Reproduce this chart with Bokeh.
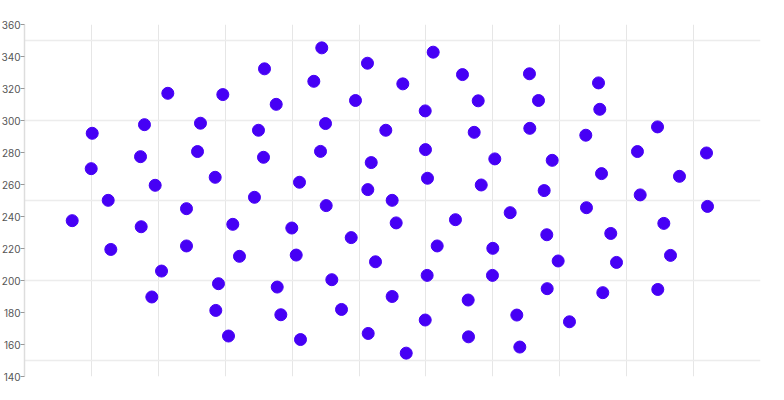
from bokeh.plotting import figure
from bokeh.models import FixedTicker, Range1d, ColumnDataSource
from bokeh.embed import file_html
from bokeh.resources import INLINE

# point positions
x_vals = [0.713, 1.012, 0.997, 1.251, 1.290, 1.734, 1.744, 1.793, 1.903, 1.953,
          2.048, 2.142, 2.421, 2.421, 2.630, 2.586, 2.850, 2.899, 2.859, 2.964,
          3.049, 3.113, 3.213, 3.437, 3.497, 3.572, 3.587, 3.762, 3.777, 3.831,
          3.995, 4.110, 4.061, 4.125, 4.324, 4.443, 4.424, 4.499, 4.509, 4.593,
          4.738, 4.883, 4.947, 5.126, 5.131, 5.182, 5.137, 5.246, 5.400, 5.495,
          5.495, 5.555, 5.654, 5.705, 5.989, 5.993, 6.023, 6.018, 5.989, 6.108,
          6.168, 6.441, 6.546, 6.631, 6.636, 6.721, 6.781, 6.826, 6.999, 7.029,
          6.994, 7.259, 7.358, 7.403, 7.547, 7.552, 7.682, 7.767, 7.806, 7.812,
          7.887, 7.976, 8.145, 8.389, 8.399, 8.579, 8.598, 8.624, 8.643, 8.762,
          8.848, 9.161, 9.202, 9.461, 9.465, 9.555, 9.655, 9.789, 10.193, 10.208]
y_vals = [237.4, 292.0, 269.9, 250.1, 219.4, 277.4, 233.6, 297.4, 189.7, 259.5,
          205.9, 317.0, 244.9, 221.6, 298.3, 280.6, 264.5, 198.0, 181.3, 316.2,
          165.3, 235.1, 215.1, 252.0, 293.9, 277.0, 332.3, 310.1, 195.9, 178.6,
          232.8, 261.4, 215.9, 163.1, 324.5, 345.4, 280.7, 298.1, 246.8, 200.5,
          181.9, 226.8, 312.5, 335.8, 256.8, 273.7, 166.9, 211.7, 293.9, 250.1,
          190.0, 236.0, 322.9, 154.6, 306.0, 281.8, 263.9, 203.2, 175.3, 342.7,
          221.6, 238.0, 328.7, 187.8, 164.8, 292.6, 312.3, 259.7, 220.1, 276.0,
          203.2, 242.4, 178.4, 158.4, 329.2, 295.1, 312.5, 256.2, 228.6, 194.9,
          275.1, 212.2, 174.2, 290.8, 245.5, 323.5, 307.0, 266.8, 192.4, 229.4,
          211.3, 280.6, 253.5, 296.0, 194.4, 235.7, 215.7, 265.1, 279.7, 246.3]

y_ticks = [140, 160, 180, 200, 220, 240, 260, 280, 300, 320, 340, 360]
y_grid = [150, 200, 250, 300, 350]
x_grid = [1, 2, 3, 4, 5, 6, 7, 8, 9, 10, 11]

src = ColumnDataSource(data=dict(x=x_vals, y=y_vals))

p = figure(width=766, height=392, output_backend="svg", toolbar_location=None,
           x_range=Range1d(0, 11), y_range=Range1d(140, 360),
           min_border_left=0, min_border_right=4, min_border_top=24, min_border_bottom=16)
p.styles = {"margin-left": "-2px"}
p.outline_line_color = None
p.background_fill_color = "white"

p.scatter("x", "y", source=src, size=12, color="#4600f5", line_color="#4600f5")

p.xaxis.visible = False
p.xgrid.ticker = FixedTicker(ticks=x_grid)
p.xgrid.grid_line_color = "#e6e6e6"
p.xgrid.grid_line_width = 1

p.yaxis.ticker = FixedTicker(ticks=y_ticks)
p.ygrid.ticker = FixedTicker(ticks=y_grid)
p.ygrid.grid_line_color = "#ececec"
p.ygrid.grid_line_width = 1.5

p.yaxis.axis_line_color = "#dddddd"
p.yaxis.axis_line_width = 1.5
p.yaxis.major_tick_line_color = "#999999"
p.yaxis.major_tick_out = 4
p.yaxis.major_tick_in = 0
p.yaxis.minor_tick_line_color = None
p.yaxis.major_label_standoff = 0
p.yaxis.major_label_text_font = "Inter"
p.yaxis.major_label_text_font_size = "10px"
p.yaxis.major_label_text_color = "#555555"

open("out.html", "w").write(file_html(p, INLINE))
